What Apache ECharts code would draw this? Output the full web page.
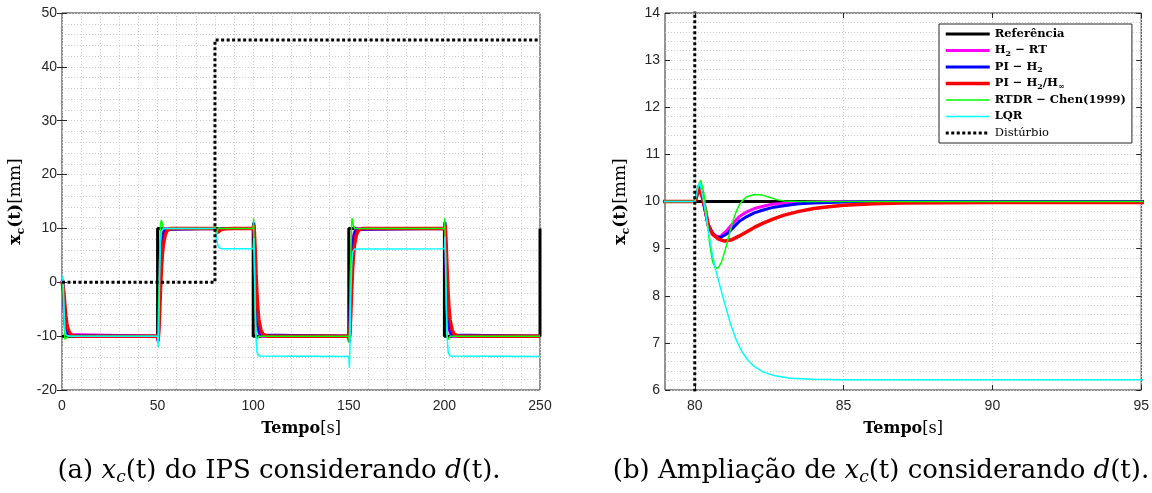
<!DOCTYPE html>
<html><head><meta charset="utf-8">
<script src="https://cdn.jsdelivr.net/npm/echarts@6/dist/echarts.min.js"></script>
<style>html,body{margin:0;padding:0;background:#fff}#c{width:1152px;height:493px}</style>
</head><body><div id="c"></div>
<script>
// ---------- DATA ----------
const seriesNames = ['Referência', 'H2 − RT', 'PI − H2', 'PI − H2/H∞', 'RTDR − Chen(1999)', 'LQR', 'Distúrbio'];

const xTicksFull = [0, 50, 100, 150, 200, 250];
const yTicksFull = [-20, -10, 0, 10, 20, 30, 40, 50];
const xTicksZoom = [80, 85, 90, 95];
const yTicksZoom = [6, 7, 8, 9, 10, 11, 12, 13, 14];

const referencia = [[0,-10],[50,-10],[50,10],[100,10],[100,-10],[150,-10],[150,10],[200,10],[200,-10],[250,-10],[250,10]];

const disturbio = [[0,0],[80,0],[80,45],[250,45]];

const h2rt = [[0,0],[0.3,0.4],[0.6,-1],[1,-4.5],[1.5,-7.5],[2,-9],[3,-9.7],[4,-10],[50,-10],
  [50.3,-10.8],[50.6,-8],[51,-1],[51.5,5],[52,8],[53,9.4],[54,10],[80,10],
  [80.04,10.05],[80.08,10.15],[80.15,10.3],[80.25,10.12],[80.35,9.8],[80.45,9.52],[80.6,9.33],[80.72,9.27],[80.85,9.25],[81.1,9.4],[81.3,9.55],[81.5,9.68],[81.75,9.78],[82,9.85],[82.3,9.9],[82.6,9.94],[83,9.96],[83.5,9.98],[84.5,10],[100,10],
  [100.3,10.8],[100.6,8],[101,1],[101.5,-5],[102,-8],[103,-9.4],[104,-10],[150,-10],
  [150.3,-10.8],[150.6,-8],[151,-1],[151.5,5],[152,8],[153,9.4],[154,10],[200,10],
  [200.3,10.8],[200.6,8],[201,1],[201.5,-5],[202,-8],[203,-9.4],[204,-10],[250,-10]];

const piH2 = [[0,0],[0.3,0.5],[0.6,-0.8],[1,-4],[1.5,-7],[2,-8.6],[3,-9.5],[4,-9.9],[5,-10],[50,-10],
  [50.3,-11],[50.6,-8.4],[51,-2],[51.5,4],[52,7.2],[53,9],[54,9.8],[55,10],[80,10],
  [80.04,10.06],[80.08,10.18],[80.15,10.35],[80.25,10.1],[80.35,9.8],[80.45,9.5],[80.6,9.32],[80.72,9.25],[80.85,9.23],[81.1,9.32],[81.3,9.45],[81.5,9.58],[81.75,9.68],[82,9.76],[82.3,9.82],[82.6,9.87],[83,9.91],[83.5,9.95],[84,9.97],[85,9.99],[87,10],[100,10],
  [100.3,11.1],[100.6,8.4],[101,2],[101.5,-4],[102,-7.2],[103,-9],[104,-9.8],[105,-10],[150,-10],
  [150.3,-11.1],[150.6,-8.4],[151,-2],[151.5,4],[152,7.2],[153,9],[154,9.8],[155,10],[200,10],
  [200.3,11.2],[200.6,8.4],[201,2],[201.5,-4],[202,-7.2],[203,-9],[204,-9.8],[205,-10],[250,-10]];

const piH2Hinf = [[0,0],[0.3,0.3],[0.6,-0.3],[1,-1.8],[1.5,-4.2],[2,-6.2],[2.5,-7.6],[3,-8.5],[4,-9.4],[5,-9.8],[7,-10],[50,-10],
  [50.3,-10.6],[50.6,-9.4],[51,-6.4],[51.5,-1.6],[52,2.4],[52.5,5.2],[53,7],[54,8.8],[55,9.6],[57,10],[80,10],
  [80.04,10.05],[80.08,10.15],[80.15,10.28],[80.25,10.1],[80.35,9.85],[80.45,9.5],[80.6,9.3],[80.8,9.2],[81,9.16],[81.25,9.19],[81.5,9.27],[81.75,9.36],[82,9.45],[82.3,9.54],[82.6,9.62],[83,9.71],[83.5,9.79],[84,9.85],[84.5,9.89],[85,9.92],[86,9.95],[87,9.97],[90,9.98],[100,9.98],
  [100.3,10.6],[100.6,9.4],[101,6.4],[101.5,1.6],[102,-2.4],[102.5,-5.2],[103,-7],[104,-8.8],[105,-9.6],[107,-10],[150,-10],
  [150.3,-10.6],[150.6,-9.4],[151,-6.4],[151.5,-1.6],[152,2.4],[152.5,5.2],[153,7],[154,8.8],[155,9.6],[157,10],[200,10],
  [200.3,10.6],[200.6,9.4],[201,6.4],[201.5,1.6],[202,-2.4],[202.5,-5.2],[203,-7],[204,-8.8],[205,-9.6],[207,-10],[250,-10]];

const rtdr = [[0,0],[0.3,0.5],[0.6,-2],[1,-7],[1.5,-10.6],[2,-10.7],[2.5,-10.2],[3,-9.9],[4,-10],[50,-10],
  [50.2,-11.2],[50.5,-6],[51,4],[51.5,10.8],[52,11.6],[52.5,10.8],[53,10],[54,9.9],[55,10],[80,10],
  [80.05,10.1],[80.1,10.3],[80.2,10.45],[80.3,10.2],[80.4,9.7],[80.5,9.1],[80.6,8.72],[80.7,8.58],[80.8,8.6],[80.9,8.72],[81,8.92],[81.1,9.15],[81.2,9.4],[81.3,9.62],[81.4,9.8],[81.5,9.93],[81.6,10.02],[81.75,10.1],[82,10.15],[82.25,10.14],[82.5,10.09],[82.75,10.04],[83,10.01],[83.5,10],[100,10],
  [100.2,11.9],[100.5,6],[101,-4],[101.5,-10.2],[102,-10.6],[102.5,-10.3],[103,-10],[150,-10],
  [150.2,-11.2],[150.5,-6],[151,4],[151.5,11],[151.7,11.9],[152.2,10.8],[153,10],[200,10],
  [200.2,11.9],[200.5,6],[201,-4],[201.5,-10.2],[202,-10.6],[202.5,-10.3],[203,-10],[250,-10]];

const lqr = [[0,0],[0.3,1.2],[0.6,0.5],[1,-4],[1.5,-8.5],[2,-9.8],[3,-10.1],[4,-10],[50,-10],
  [50.3,-12],[50.6,-9],[51,0],[51.5,7],[52,9.5],[53,10],[80,10],
  [80.05,10.12],[80.1,10.3],[80.17,10.4],[80.3,10],[80.45,9.4],[80.6,8.85],[80.7,8.56],[80.85,8.2],[81,7.85],[81.2,7.4],[81.4,7.05],[81.6,6.8],[81.8,6.62],[82,6.5],[82.3,6.38],[82.7,6.3],[83.2,6.25],[84,6.23],[85,6.22],[100,6.22],
  [100.3,8.2],[100.6,5],[101,-4],[101.5,-10.5],[102,-13],[103,-13.7],[104,-13.78],[150,-13.78],
  [150.3,-15.9],[150.6,-12],[151,-3],[151.5,3],[152,5.6],[153,6.2],[200,6.22],
  [200.3,8.5],[200.6,5],[201,-4],[201.5,-10.5],[202,-13],[203,-13.7],[204,-13.78],[250,-13.78]];

// ---------- STYLE ----------
const serif = 'DejaVu Serif';
const sans = 'Liberation Sans';
const axisCol = '#262626';
const gridLine = { show: true, lineStyle: { color: '#cdcdcd', type: [1, 2], width: 1 } };

const specs = [
  { name: seriesNames[0], data: referencia, color: '#000000', width: 3, type: 'solid' },
  { name: seriesNames[1], data: h2rt, color: '#ff00ff', width: 3, type: 'solid' },
  { name: seriesNames[2], data: piH2, color: '#0000ff', width: 3, type: 'solid' },
  { name: seriesNames[3], data: piH2Hinf, color: '#ff0000', width: 3.5, type: 'solid' },
  { name: seriesNames[4], data: rtdr, color: '#00ff00', width: 1.5, type: 'solid' },
  { name: seriesNames[5], data: lqr, color: '#00ffff', width: 1.5, type: 'solid' },
  { name: seriesNames[6], data: disturbio, color: '#000000', width: 3, type: [3, 2.5] }
];

const yNameRich = {
  b: { fontFamily: serif, fontWeight: 'bold', fontSize: 17, lineHeight: 22, color: '#000' },
  s: { fontFamily: serif, fontWeight: 'bold', fontSize: 11, lineHeight: 11, verticalAlign: 'bottom', color: '#000' },
  r: { fontFamily: serif, fontSize: 17, lineHeight: 22, color: '#000' }
};
const xNameRich = {
  b: { fontFamily: serif, fontWeight: 'bold', fontSize: 16, color: '#000' },
  r: { fontFamily: serif, fontSize: 16, color: '#000' }
};
const labelStyle = { fontFamily: sans, fontSize: 14, color: axisCol };

function bottomX(grid, min, max, interval, ticks, minor) {
  const ax = {
    type: 'value', gridIndex: grid, position: 'bottom', min, max, interval,
    axisLine: { show: false },
    axisTick: { show: true, inside: true, length: 5, lineStyle: { color: axisCol } },
    axisLabel: Object.assign({ margin: 9 }, labelStyle),
    splitLine: gridLine,
    name: '{b|Tempo}{r|[s]}', nameLocation: 'middle', nameGap: 31,
    nameTextStyle: { rich: xNameRich }
  };
  if (minor) { ax.minorTick = { show: false, splitNumber: minor }; ax.minorSplitLine = gridLine; }
  if (ticks) { ax.axisTick.customValues = ticks; ax.axisLabel.customValues = ticks; }
  return ax;
}
function topX(grid, min, max, interval, ticks) {
  const ax = {
    type: 'value', gridIndex: grid, position: 'top', min, max, interval,
    axisLine: { show: false }, axisLabel: { show: false }, splitLine: { show: false },
    axisTick: { show: true, inside: true, length: 5, lineStyle: { color: axisCol } }
  };
  if (ticks) ax.axisTick.customValues = ticks;
  return ax;
}
function leftY(grid, min, max, interval, gap) {
  return {
    type: 'value', gridIndex: grid, position: 'left', min, max, interval,
    axisLine: { show: false },
    axisTick: { show: true, inside: true, length: 5, lineStyle: { color: axisCol } },
    axisLabel: Object.assign({ margin: 5 }, labelStyle),
    splitLine: gridLine,
    minorTick: { show: false, splitNumber: 5 }, minorSplitLine: gridLine,
    name: '{b|x}{s|c}{b|(t)}{r|[mm]}', nameLocation: 'middle', nameRotate: 90, nameGap: gap,
    nameTextStyle: { rich: yNameRich }
  };
}
function rightY(grid, min, max, interval) {
  return {
    type: 'value', gridIndex: grid, position: 'right', min, max, interval,
    axisLine: { show: false }, axisLabel: { show: false }, splitLine: { show: false },
    axisTick: { show: true, inside: true, length: 5, lineStyle: { color: axisCol } }
  };
}

const series = [];
[[0, 0], [2, 2]].forEach(([xi, yi]) => {
  specs.forEach(s => {
    series.push({
      type: 'line', name: s.name, data: s.data, xAxisIndex: xi, yAxisIndex: yi,
      symbol: 'none', showSymbol: false, clip: true, animation: false,
      lineStyle: { color: s.color, width: s.width, type: s.type },
      itemStyle: { color: s.color }
    });
  });
});

const legendRich = {
  'Referência': '{b|Referência}',
  'H2 − RT': '{b|H}{s|2}{b| − RT}',
  'PI − H2': '{b|PI − H}{s|2}',
  'PI − H2/H∞': '{b|PI − H}{s|2}{b|/H}{s|∞}',
  'RTDR − Chen(1999)': '{b|RTDR − Chen(1999)}',
  'LQR': '{b|LQR}',
  'Distúrbio': '{r|Distúrbio}'
};

const capRich = {
  r: { fontFamily: serif, fontSize: 26, lineHeight: 30, fill: '#000' },
  i: { fontFamily: serif, fontStyle: 'italic', fontSize: 26, lineHeight: 30, fill: '#000' },
  is: { fontFamily: serif, fontStyle: 'italic', fontSize: 17, lineHeight: 17, verticalAlign: 'bottom', fill: '#000' }
};

const option = {
  animation: false,
  backgroundColor: '#ffffff',
  grid: [
    { left: 62, top: 13, width: 478, height: 377, show: true, borderColor: axisCol, borderWidth: 1, backgroundColor: 'transparent' },
    { left: 665, top: 13, width: 478, height: 377, show: true, borderColor: axisCol, borderWidth: 1, backgroundColor: 'transparent' }
  ],
  xAxis: [
    bottomX(0, xTicksFull[0], xTicksFull[xTicksFull.length - 1], 50, null, 5),
    topX(0, xTicksFull[0], xTicksFull[xTicksFull.length - 1], 50, null),
    bottomX(1, 79, xTicksZoom[xTicksZoom.length - 1], 1, xTicksZoom, null),
    topX(1, 79, xTicksZoom[xTicksZoom.length - 1], 1, xTicksZoom)
  ],
  yAxis: [
    leftY(0, yTicksFull[0], yTicksFull[yTicksFull.length - 1], 10, 35),
    rightY(0, yTicksFull[0], yTicksFull[yTicksFull.length - 1], 10),
    leftY(1, yTicksZoom[0], yTicksZoom[yTicksZoom.length - 1], 1, 33),
    rightY(1, yTicksZoom[0], yTicksZoom[yTicksZoom.length - 1], 1)
  ],
  legend: {
    show: true, left: 939, top: 24, orient: 'vertical', padding: [3, 6, 3, 5],
    itemGap: 2.5, itemWidth: 44, itemHeight: 14, selectedMode: false,
    backgroundColor: '#ffffff', borderColor: axisCol, borderWidth: 1, borderRadius: 0,
    data: specs.map(s => ({ name: s.name, itemStyle: { opacity: 0 }, lineStyle: { color: s.color, width: s.width, type: s.type } })),
    formatter: n => legendRich[n],
    textStyle: {
      fontFamily: serif, fontSize: 11.5, color: '#000', lineHeight: 14,
      rich: {
        b: { fontFamily: serif, fontWeight: 'bold', fontSize: 11.5, lineHeight: 14, color: '#000' },
        s: { fontFamily: serif, fontWeight: 'bold', fontSize: 8, lineHeight: 8, verticalAlign: 'bottom', color: '#000' },
        r: { fontFamily: serif, fontSize: 11.5, lineHeight: 14, color: '#000' }
      }
    }
  },
  graphic: [
    { type: 'text', x: 279, y: 471, style: { text: '{r|(a) }{i|x}{is|c}{r|(t) do IPS considerando }{i|d}{r|(t).}', align: 'center', verticalAlign: 'middle', rich: capRich } },
    { type: 'text', x: 881, y: 471, style: { text: '{r|(b) Ampliação de }{i|x}{is|c}{r|(t) considerando }{i|d}{r|(t).}', align: 'center', verticalAlign: 'middle', rich: capRich } }
  ],
  series
};

const chart = echarts.init(document.getElementById('c'), null, { renderer: 'canvas' });
chart.setOption(option);
</script>
</body></html>
